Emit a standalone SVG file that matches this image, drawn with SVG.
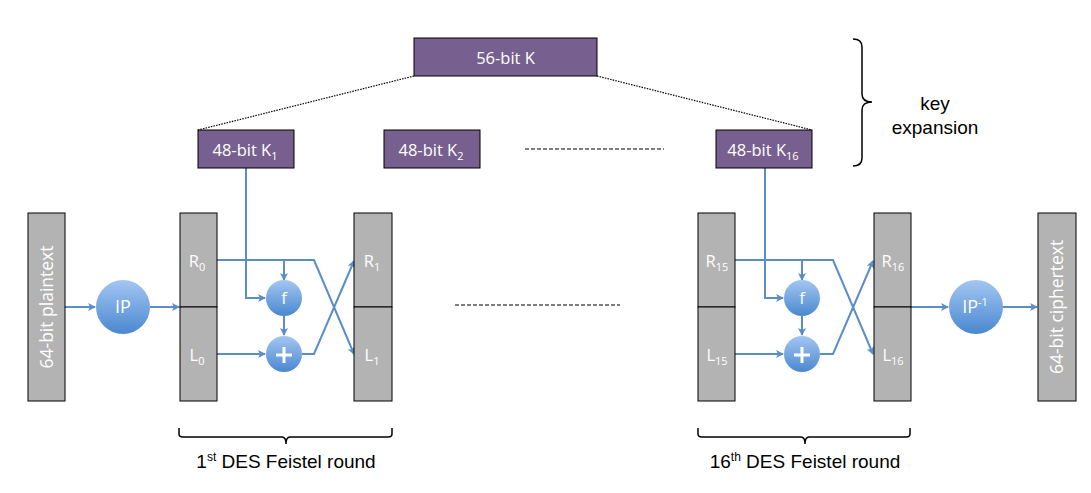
<svg xmlns="http://www.w3.org/2000/svg" width="1091" height="493" viewBox="0 0 1091 493">
<style>
.key{fill:#77608F;stroke:#000;stroke-width:1}
.blk{fill:#B3B3B3;stroke:#000;stroke-width:1}
.wt{fill:#fff;font-family:"Open Sans","Noto Sans",sans-serif;font-size:16.5px;text-anchor:middle}
.sub{font-size:11px}
.arr{fill:none;stroke:#5B8DC8;stroke-width:2;marker-end:url(#ah)}
.blk-t{fill:#000;font-family:"Liberation Sans",Arial,sans-serif;font-size:19px;text-anchor:middle}
.br{fill:none;stroke:#000;stroke-width:1.5}
.plus{fill:none;stroke:#fff;stroke-width:3}
</style>
<defs>
<marker id="ah" markerWidth="8" markerHeight="8" refX="7" refY="4" orient="auto" markerUnits="userSpaceOnUse"><path d="M0,0 L8,4 L0,8 L2,4 Z" fill="#5B8DC8"/></marker>
<linearGradient id="cg" x1="0" y1="0" x2="0" y2="1"><stop offset="0" stop-color="#A3C6F2"/><stop offset="1" stop-color="#4A88D0"/></linearGradient>
</defs>
<g id="connectors">
<line x1="414" y1="76" x2="198" y2="130" stroke="#000" stroke-width="1.2" stroke-dasharray="1.5,1.2"/>
<line x1="597" y1="76" x2="812" y2="130" stroke="#000" stroke-width="1.2" stroke-dasharray="1.5,1.2"/>
<line x1="525" y1="149" x2="664" y2="149" stroke="#000" stroke-width="1.2" stroke-dasharray="4,2"/>
<line x1="455" y1="305" x2="620" y2="305" stroke="#000" stroke-width="1.2" stroke-dasharray="4,2"/>
<path class="arr" d="M65,307 H95"/>
<path class="arr" d="M150,307 H179"/>
<path class="arr" d="M246,168 V298 H265"/>
<path class="arr" d="M217,260 H314 L354,354"/>
<path class="arr" d="M284,260 V280"/>
<path class="arr" d="M284,316 V335"/>
<path class="arr" d="M217,354 H265"/>
<path class="arr" d="M302,354 H314 L354,261"/>
<path class="arr" d="M765,168 V298 H783"/>
<path class="arr" d="M735,260 H833 L873,354"/>
<path class="arr" d="M802,260 V280"/>
<path class="arr" d="M802,316 V335"/>
<path class="arr" d="M735,354 H783"/>
<path class="arr" d="M820,354 H833 L873,261"/>
<path class="arr" d="M911,307 H948"/>
<path class="arr" d="M1003,307 H1037"/>
</g>
<g id="k56"><rect class="key" x="414" y="38" width="183" height="38"/><text class="wt" x="505.5" y="64">56-bit K</text></g>
<g id="k1"><rect class="key" x="198" y="130" width="96" height="38"/><text class="wt" x="245" y="156">48-bit K<tspan class="sub" dy="4">1</tspan></text></g>
<g id="k2"><rect class="key" x="384" y="130" width="96" height="38"/><text class="wt" x="431" y="156">48-bit K<tspan class="sub" dy="4">2</tspan></text></g>
<g id="k16"><rect class="key" x="716" y="130" width="96" height="38"/><text class="wt" x="763" y="156">48-bit K<tspan class="sub" dy="4">16</tspan></text></g>
<g id="plaintext"><rect class="blk" x="28" y="213" width="37" height="188"/><text class="wt" style="font-size:17.5px" transform="translate(53,307) rotate(-90)">64-bit plaintext</text></g>
<g id="ip"><circle cx="123" cy="307" r="27" fill="url(#cg)"/><text class="wt" x="123" y="313" style="font-size:18px">IP</text></g>
<g id="r0"><rect class="blk" x="180" y="213" width="37" height="94"/><text class="wt" x="197" y="267">R<tspan class="sub" dy="4">0</tspan></text></g>
<g id="l0"><rect class="blk" x="180" y="307" width="37" height="94"/><text class="wt" x="197" y="361">L<tspan class="sub" dy="4">0</tspan></text></g>
<g id="f1"><circle cx="284" cy="298" r="18" fill="url(#cg)"/><text class="wt" x="284" y="304" style="font-size:17px">f</text></g>
<g id="x1"><circle cx="284" cy="354" r="18" fill="url(#cg)"/><path class="plus" d="M276,355 H292 M284,347 V363"/></g>
<g id="r1"><rect class="blk" x="354" y="213" width="38" height="94"/><text class="wt" x="372" y="267">R<tspan class="sub" dy="4">1</tspan></text></g>
<g id="l1"><rect class="blk" x="354" y="307" width="38" height="94"/><text class="wt" x="372" y="361">L<tspan class="sub" dy="4">1</tspan></text></g>
<g id="r15"><rect class="blk" x="698" y="213" width="37" height="94"/><text class="wt" x="717" y="267">R<tspan class="sub" dy="4">15</tspan></text></g>
<g id="l15"><rect class="blk" x="698" y="307" width="37" height="94"/><text class="wt" x="717" y="361">L<tspan class="sub" dy="4">15</tspan></text></g>
<g id="f16"><circle cx="802" cy="298" r="18" fill="url(#cg)"/><text class="wt" x="802" y="304" style="font-size:17px">f</text></g>
<g id="x16"><circle cx="802" cy="354" r="18" fill="url(#cg)"/><path class="plus" d="M794,355 H810 M802,347 V363"/></g>
<g id="r16"><rect class="blk" x="874" y="213" width="37" height="94"/><text class="wt" x="893" y="267">R<tspan class="sub" dy="4">16</tspan></text></g>
<g id="l16"><rect class="blk" x="874" y="307" width="37" height="94"/><text class="wt" x="893" y="361">L<tspan class="sub" dy="4">16</tspan></text></g>
<g id="ipinv"><circle cx="976" cy="307" r="27" fill="url(#cg)"/><text class="wt" x="975" y="313" style="font-size:18px">IP<tspan class="sub" dy="-7">-1</tspan></text></g>
<g id="ciphertext"><rect class="blk" x="1038" y="213" width="38" height="188"/><text class="wt" style="font-size:17.5px" transform="translate(1063,307) rotate(-90)">64-bit ciphertext</text></g>
<g id="keyexp">
<path class="br" d="M853,39 Q862,39 862,47 V94 Q862,102 872,102 Q862,102 862,110 V158 Q862,166 853,166"/>
<text class="blk-t" x="935" y="110">key</text>
<text class="blk-t" x="935" y="134">expansion</text>
</g>
<g id="round1">
<path class="br" d="M179,428 V434 Q179,437 183,437 H282 Q286,437 286,444 Q286,437 290,437 H388 Q392,437 392,434 V428"/>
<text class="blk-t" x="286" y="468">1<tspan style="font-size:12px" dy="-7">st</tspan><tspan dy="7"> DES Feistel round</tspan></text>
</g>
<g id="round16">
<path class="br" d="M698,428 V434 Q698,437 702,437 H801 Q805,437 805,444 Q805,437 809,437 H906 Q910,437 910,434 V428"/>
<text class="blk-t" x="805" y="468">16<tspan style="font-size:12px" dy="-7">th</tspan><tspan dy="7"> DES Feistel round</tspan></text>
</g>
</svg>
